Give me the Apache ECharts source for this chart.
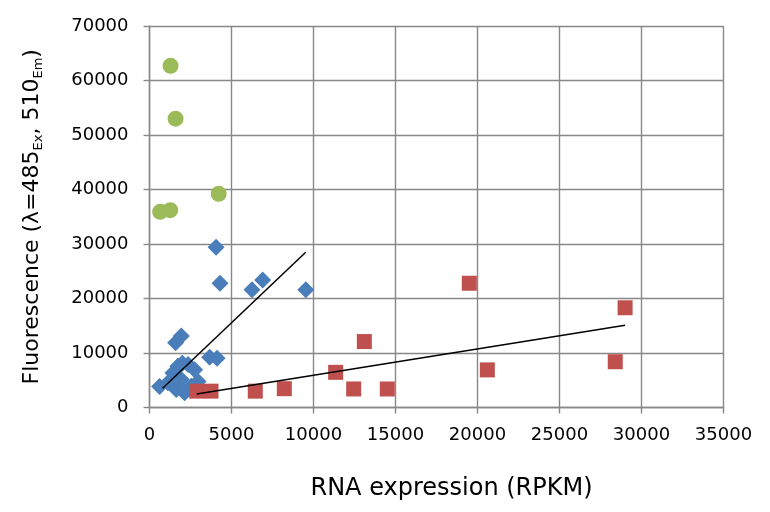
<!DOCTYPE html>
<html>
<head>
<meta charset="utf-8">
<script src="https://cdn.jsdelivr.net/npm/echarts@6/dist/echarts.min.js"></script>
<style>
html,body{margin:0;padding:0;background:#fff;}
#chart{width:770px;height:512px;}
</style>
</head>
<body>
<div id="chart"></div>
<script>
// ---- data ----
const blueX = [4060, 4300, 6900, 6250, 9530, 1940, 1590, 3670, 4120, 612, 1730, 2350, 2000, 1430, 2750, 1940, 1120, 1630, 2140, 2960, 2550];
const blueY = [29400, 22800, 23400, 21600, 21600, 13100, 11900, 9230, 9050, 3850, 7570, 7880, 8100, 6350, 6910, 5140, 4530, 3300, 2690, 4770, 3900];
const redX = [2880, 3750, 6450, 8220, 11350, 12450, 13100, 14500, 19500, 20600, 28400, 29000];
const redY = [3000, 3000, 3000, 3450, 6450, 3400, 12100, 3400, 22800, 6900, 8400, 18300];
const greenX = [1285, 1590, 4220, 1265, 650];
const greenY = [62700, 53000, 39200, 36200, 35900];
// linear trend lines (endpoints as drawn in the reference)
const blueTrendX = [800, 9525];
const blueTrendY = [3520, 28480];
const redTrendX = [2880, 29000];
const redTrendY = [2477, 15080];
const xTicks = {min: 0, max: 35000, step: 5000};
const yTicks = {min: 0, max: 70000, step: 10000};

const zip = (a, b) => a.map((v, i) => [v, b[i]]);
const gridColor = '#888888';
const font = 'DejaVu Sans';
const plain = v => String(v);

const chart = echarts.init(document.getElementById('chart'), null, {renderer: 'canvas'});
chart.setOption({
  animation: false,
  backgroundColor: '#ffffff',
  grid: {left: 149.5, right: 46.5, top: 26, bottom: 104.5, containLabel: false},
  xAxis: {
    type: 'value', min: xTicks.min, max: xTicks.max, interval: xTicks.step,
    name: 'RNA expression (RPKM)', nameLocation: 'middle', nameGap: 69,
    nameTextStyle: {fontFamily: font, fontSize: 24, color: '#000', padding: [0, 0, 0, 30]},
    axisLine: {show: true, lineStyle: {color: gridColor, width: 1.4}},
    axisTick: {show: true, length: 6, lineStyle: {color: gridColor, width: 1.4}},
    axisLabel: {fontFamily: font, fontSize: 18, color: '#000', margin: 19, formatter: plain},
    splitLine: {show: true, lineStyle: {color: gridColor, width: 1.4}}
  },
  yAxis: {
    type: 'value', min: yTicks.min, max: yTicks.max, interval: yTicks.step,
    name: '{m|Fluorescence (λ=485}{s|Ex}{m|, 510}{s|Em}{m|)}',
    nameLocation: 'middle', nameGap: 104, nameRotate: 90,
    nameTextStyle: {
      fontFamily: font, fontSize: 22, color: '#000',
      rich: {
        m: {fontFamily: font, fontSize: 22, color: '#000'},
        s: {fontFamily: font, fontSize: 13, color: '#000', padding: [14, 0, 0, 0]}
      }
    },
    axisLine: {show: true, lineStyle: {color: gridColor, width: 1.4}},
    axisTick: {show: true, length: 6, lineStyle: {color: gridColor, width: 1.4}},
    axisLabel: {fontFamily: font, fontSize: 18, color: '#000', margin: 21, formatter: plain},
    splitLine: {show: true, lineStyle: {color: gridColor, width: 1.4}}
  },
  series: [
    {type: 'scatter', name: 'blue', data: zip(blueX, blueY), symbol: 'diamond', symbolSize: 17,
     itemStyle: {color: '#4a7ebb', opacity: 1}},
    {type: 'scatter', name: 'red', data: zip(redX, redY), symbol: 'rect', symbolSize: 15,
     itemStyle: {color: '#c0504d', opacity: 1}},
    {type: 'scatter', name: 'green', data: zip(greenX, greenY), symbol: 'circle', symbolSize: 16,
     itemStyle: {color: '#9bbb59', opacity: 1}},
    {type: 'line', name: 'blueTrend', data: zip(blueTrendX, blueTrendY), showSymbol: false, symbol: 'none',
     lineStyle: {color: '#000', width: 1.5}, z: 5},
    {type: 'line', name: 'redTrend', data: zip(redTrendX, redTrendY), showSymbol: false, symbol: 'none',
     lineStyle: {color: '#000', width: 1.5}, z: 5}
  ]
});
</script>
</body>
</html>
